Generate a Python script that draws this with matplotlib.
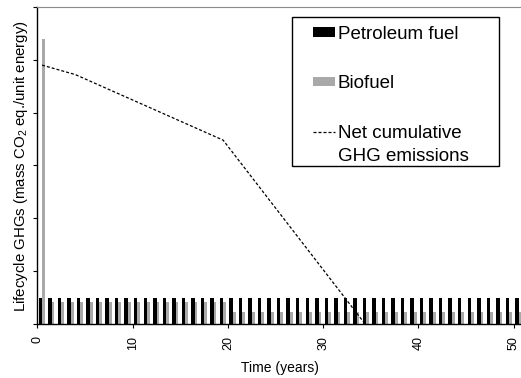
"""Lifecycle GHG emissions: petroleum fuel vs biofuel, with net cumulative line."""

import matplotlib
matplotlib.use('Agg')
import matplotlib.pyplot as plt
import numpy as np
from matplotlib.patches import Rectangle

plt.rcParams['font.family'] = ['Liberation Sans', 'DejaVu Sans']
plt.rcParams['mathtext.fontset'] = 'custom'
plt.rcParams['mathtext.rm'] = 'Liberation Sans'
plt.rcParams['mathtext.it'] = 'Liberation Sans:italic'

# Years 0..50, one pair of bars per year
years = np.arange(51)

# Annual lifecycle GHGs (arbitrary units)
petroleum = [0.50, 0.50, 0.50, 0.50, 0.50, 0.50, 0.50, 0.50, 0.50, 0.50,
             0.50, 0.50, 0.50, 0.50, 0.50, 0.50, 0.50, 0.50, 0.50, 0.50,
             0.50, 0.50, 0.50, 0.50, 0.50, 0.50, 0.50, 0.50, 0.50, 0.50,
             0.50, 0.50, 0.50, 0.50, 0.50, 0.50, 0.50, 0.50, 0.50, 0.50,
             0.50, 0.50, 0.50, 0.50, 0.50, 0.50, 0.50, 0.50, 0.50, 0.50,
             0.50]
biofuel = [5.40, 0.42, 0.42, 0.42, 0.42, 0.42, 0.42, 0.42, 0.42, 0.42,
           0.42, 0.42, 0.42, 0.42, 0.42, 0.42, 0.42, 0.42, 0.42, 0.42,
           0.23, 0.23, 0.23, 0.23, 0.23, 0.23, 0.23, 0.23, 0.23, 0.23,
           0.23, 0.23, 0.23, 0.23, 0.23, 0.23, 0.23, 0.23, 0.23, 0.23,
           0.23, 0.23, 0.23, 0.23, 0.23, 0.23, 0.23, 0.23, 0.23, 0.23,
           0.23]

# Net cumulative GHG emissions (break points of the dashed line)
net_years = [0.5, 4.0, 19.5, 34.4]
net_values = [4.90, 4.72, 3.48, 0.0]

xticks = [0, 10, 20, 30, 40, 50]

fig = plt.figure(figsize=(5.21, 3.78), dpi=100)
ax = fig.add_axes([0.0716, 0.1429, 0.9328, 0.8386])

bars_p = ax.bar(years + 0.15, petroleum, width=0.36, align='edge', color='black',
                linewidth=0)
bars_b = ax.bar(years + 0.51, biofuel, width=0.29, align='edge', color='#a9a9a9',
                linewidth=0)
line_net, = ax.plot(net_years, net_values, color='black', lw=0.9,
                    linestyle=(0, (2.4, 1.6)))

ax.set_xlim(0, 51)
ax.set_ylim(0, 6)
ax.set_xticks(xticks)
ax.set_xticklabels([str(t) for t in xticks], rotation=90, fontsize=9)
ax.set_yticks(np.arange(0, 7))
ax.set_yticklabels([])
ax.tick_params(axis='both', direction='out', length=3, width=0.8, color='black')
ax.tick_params(axis='x', pad=6)

ax.spines['right'].set_visible(False)
ax.spines['top'].set_color('#8c8c8c')
ax.spines['left'].set_linewidth(1.0)
ax.spines['bottom'].set_linewidth(1.0)

ax.set_xlabel('Time (years)', fontsize=10)
ax.xaxis.set_label_coords(0.5, -0.117)
ax.set_ylabel('Lifecycle GHGs (mass CO$_2$ eq./unit energy)', fontsize=10.8)
ax.yaxis.set_label_coords(-0.016, 0.499)

leg = ax.legend([bars_p, bars_b, line_net],
                ['Petroleum fuel', 'Biofuel', 'Net cumulative'],
                loc='upper left', bbox_to_anchor=(313 / 521, 1 - 26 / 378),
                bbox_transform=fig.transFigure, frameon=False, fontsize=13.5,
                borderpad=0, borderaxespad=0, handlelength=1.17,
                handletextpad=0.16, handleheight=0.43, labelspacing=1.72)

# Second line of the last legend label, set under the first one
fig.canvas.draw()
bb = leg.get_texts()[2].get_window_extent()
fig.text(bb.x0 / fig.bbox.width, (bb.y0 - 23.4) / fig.bbox.height,
         'GHG emissions', fontsize=13.5, ha='left', va='bottom')

# Legend box drawn separately to match its loose padding
fig.add_artist(Rectangle((292 / 521, 1 - 166 / 378), 207 / 521, 149 / 378,
                         transform=fig.transFigure, fill=False,
                         edgecolor='black', linewidth=1.0))

fig.savefig('out.png', dpi=100)
